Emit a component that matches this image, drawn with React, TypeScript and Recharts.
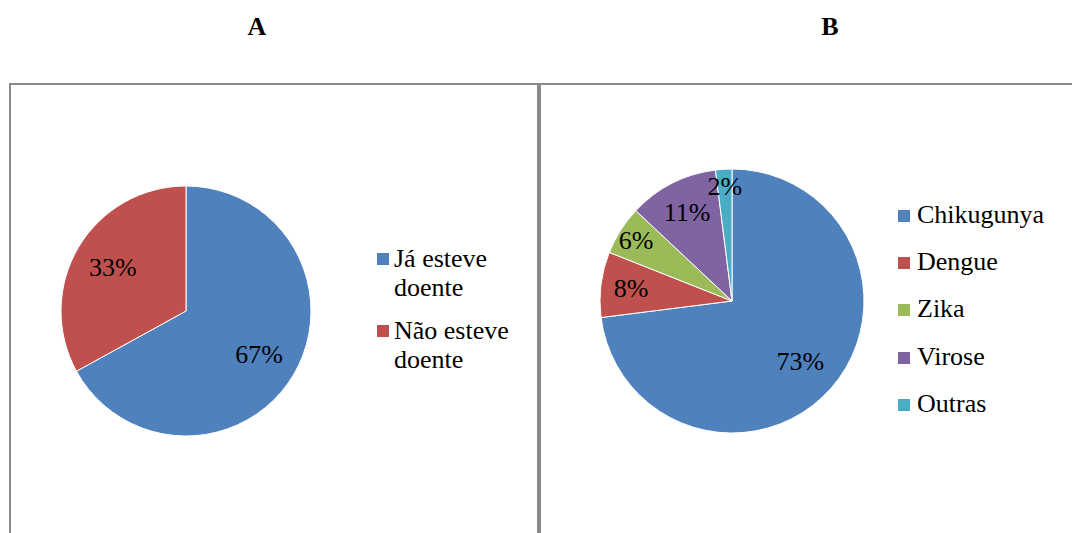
import React from "react";
import { PieChart, Pie, Cell, Legend } from "recharts";

const statusNames = ["Já esteve doente", "Não esteve doente"];
const statusValues = [67, 33];
const statusLegendLines = [["Já esteve", "doente"], ["Não esteve", "doente"]];

const diseaseNames = ["Chikugunya", "Dengue", "Zika", "Virose", "Outras"];
const diseaseValues = [73, 8, 6, 11, 2];

const statusColors = ["#4F81BD", "#C0504D"];
const diseaseColors = ["#4F81BD", "#C0504D", "#9BBB59", "#8064A2", "#4BACC6"];

const statusData = statusNames.map((name, i) => ({ name, value: statusValues[i] }));
const diseaseData = diseaseNames.map((name, i) => ({ name, value: diseaseValues[i] }));

const FONT = "Liberation Serif, Times New Roman, Tinos, DejaVu Serif, serif";
const RAD = Math.PI / 180;

const statusLabelFactor = [0.68, 0.68];
const diseaseLabelFactor = [0.69, 0.77, 0.86, 0.75, 0.87];

const makeLabel = (factors: number[]) => (props: any) => {
  const { cx, cy, midAngle, outerRadius, index, value } = props;
  const r = outerRadius * factors[index];
  const x = cx + r * Math.cos(-midAngle * RAD);
  const y = cy + r * Math.sin(-midAngle * RAD);
  return (
    <text
      x={x}
      y={y}
      textAnchor="middle"
      dominantBaseline="central"
      fill="#000"
      fontFamily={FONT}
      fontSize={26}
    >
      {`${value}%`}
    </text>
  );
};

const LegendContent = () => (
  <div style={{ position: "relative", width: 1072, height: 533, fontFamily: FONT, fontSize: 26, color: "#000" }}>
    {statusLegendLines.map((lines, i) => (
      <div key={i} style={{ position: "absolute", left: 377, top: 244 + i * 72, lineHeight: "29px" }}>
        <span style={{ position: "absolute", left: 0, top: 9, width: 12, height: 12, background: statusColors[i] }} />
        <div style={{ marginLeft: 17 }}>{lines[0]}</div>
        <div style={{ marginLeft: 17 }}>{lines[1]}</div>
      </div>
    ))}
    {diseaseNames.map((name, i) => (
      <div key={name} style={{ position: "absolute", left: 898, top: 200 + i * 47.2, lineHeight: "30px", whiteSpace: "nowrap" }}>
        <span style={{ position: "absolute", left: 0, top: 10, width: 12, height: 12, background: diseaseColors[i] }} />
        <div style={{ marginLeft: 19 }}>{name}</div>
      </div>
    ))}
  </div>
);

export default function App() {
  return (
    <div style={{ position: "absolute", left: 0, top: 0, width: 1072, height: 533, background: "#fff", overflow: "hidden", fontFamily: FONT }}>
      <div style={{ position: "absolute", left: 257, top: 27, transform: "translate(-50%,-50%)", fontWeight: "bold", fontSize: 26 }}>A</div>
      <div style={{ position: "absolute", left: 830, top: 27, transform: "translate(-50%,-50%)", fontWeight: "bold", fontSize: 26 }}>B</div>
      <div style={{ position: "absolute", left: 9, top: 83, width: 530, height: 470, border: "2px solid #8a8a8a", boxSizing: "border-box" }} />
      <div style={{ position: "absolute", left: 539, top: 83, width: 560, height: 470, border: "2px solid #8a8a8a", boxSizing: "border-box" }} />
      <div style={{ position: "absolute", left: 0, top: 0 }}>
        <PieChart width={1072} height={533} margin={{ top: 0, right: 0, bottom: 0, left: 0 }}>
          <Pie
            data={statusData}
            dataKey="value"
            nameKey="name"
            cx={186}
            cy={311}
            outerRadius={125}
            startAngle={90}
            endAngle={-270}
            stroke="#fff"
            strokeWidth={1}
            labelLine={false}
            label={makeLabel(statusLabelFactor)}
            isAnimationActive={false}
          >
            {statusData.map((d, i) => (
              <Cell key={d.name} fill={statusColors[i]} />
            ))}
          </Pie>
          <Pie
            data={diseaseData}
            dataKey="value"
            nameKey="name"
            cx={732}
            cy={301}
            outerRadius={132}
            startAngle={90}
            endAngle={-270}
            stroke="#fff"
            strokeWidth={1}
            labelLine={false}
            label={makeLabel(diseaseLabelFactor)}
            isAnimationActive={false}
          >
            {diseaseData.map((d, i) => (
              <Cell key={d.name} fill={diseaseColors[i]} />
            ))}
          </Pie>
          <Legend
            content={LegendContent}
            wrapperStyle={{ position: "absolute", left: 0, top: 0, width: 1072, height: 533 }}
          />
        </PieChart>
      </div>
    </div>
  );
}
